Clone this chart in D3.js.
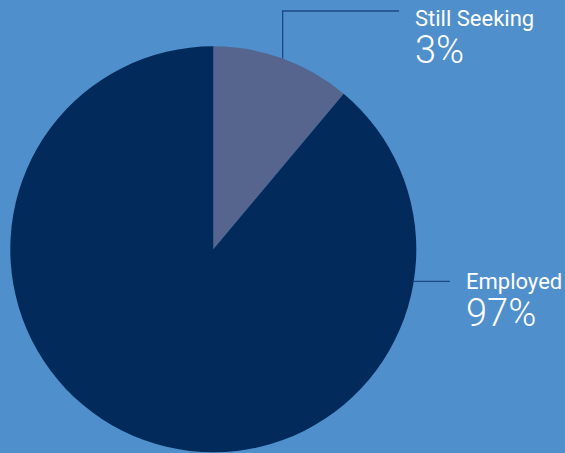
<!DOCTYPE html>
<html>
<head>
<meta charset="utf-8">
<script src="https://cdn.jsdelivr.net/npm/d3@7"></script>
<style>
  html, body { margin: 0; padding: 0; background: #4f8fcc; }
  svg { display: block; }
  text { font-family: Roboto, "Open Sans", sans-serif; fill: #fff; }
</style>
</head>
<body>
<svg id="plot" width="565" height="453"></svg>
<script>
// slice sizes as drawn (the printed labels say 3% / 97%)
const categories = ['Still Seeking', 'Employed']
const values = [11.1, 88.9]
const percentLabels = ['3%', '97%']
const colors = ['#55658e', '#022b5b']

const width = 565, height = 453
const cx = 213.3, cy = 249.3, radius = 203

let svg = d3.select('#plot')
let g = svg.append('g').attr('transform', `translate(${cx},${cy})`)

const pie = d3.pie().sort(null).value(d => d.value)
const arc = d3.arc().innerRadius(0).outerRadius(radius)

const data = categories.map((c, i) => ({ name: c, value: values[i], pct: percentLabels[i], color: colors[i] }))
const arcs = pie(data)

g.selectAll('path').data(arcs).enter().append('path')
  .attr('d', arc)
  .attr('fill', d => d.data.color)

// leader lines + labels
const onArc = a => [Math.sin(a) * radius, -Math.cos(a) * radius]

// label layout: where the leader leaves the pie and where the text sits
const layout = [
  { angle: d => (d.startAngle + d.endAngle) / 2, elbowY: 11 - cy, endX: 399 - cx, textX: 415 - cx, nameY: 26 - cy, pctY: 63 - cy },
  { angle: () => Math.PI * 0.5505, elbowY: null, endX: 450 - cx, textX: 466 - cx, nameY: 289 - cy, pctY: 326 - cy }
]

arcs.forEach((d, i) => {
  const l = layout[i]
  const p = onArc(l.angle(d))
  let pts = l.elbowY !== null ? [p, [p[0], l.elbowY], [l.endX, l.elbowY]] : [p, [l.endX, p[1]]]
  g.append('path')
    .attr('d', d3.line()(pts))
    .attr('fill', 'none')
    .attr('stroke', '#1c4a84')
    .attr('stroke-width', 1.3)
  g.append('text')
    .attr('x', l.textX).attr('y', l.nameY)
    .style('font-size', '22px')
    .text(d.data.name)
  g.append('text')
    .attr('x', l.textX).attr('y', l.pctY)
    .style('font-size', '38px')
    .style('font-weight', 300)
    .text(d.data.pct)
})
</script>
</body>
</html>
